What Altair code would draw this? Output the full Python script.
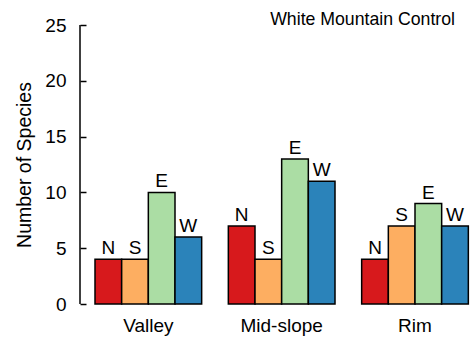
import altair as alt
import pandas as pd

# Species counts by slope position and aspect
sites = ["Valley", "Mid-slope", "Rim"]
aspects = ["N", "S", "E", "W"]
valley = [4, 4, 10, 6]
mid_slope = [7, 4, 13, 11]
rim = [4, 7, 9, 7]
colors = ["#d7191c", "#fdae61", "#abdda4", "#2b83ba"]
panel_title = "White Mountain Control"

rows = []
for site, counts in zip(sites, [valley, mid_slope, rim]):
    for aspect, n in zip(aspects, counts):
        rows.append({"site": site, "aspect": aspect, "count": n})
df = pd.DataFrame(rows)

FONT = "Liberation Sans"
FS = 19

x_enc = alt.X(
    "site:N",
    sort=sites,
    title=None,
    scale=alt.Scale(paddingInner=0.2, paddingOuter=0.0625, align=0.9),
    axis=alt.Axis(domain=False, ticks=False, labelAngle=0, labelFontSize=FS,
                  labelFont=FONT, labelColor="black", labelPadding=12),
)
xoff_enc = alt.XOffset("aspect:N", sort=aspects,
                       scale=alt.Scale(paddingInner=0, paddingOuter=0))
y_scale = alt.Scale(domain=[0, 25], nice=False)

bars = alt.Chart(df).mark_bar(stroke="black", strokeWidth=1.5).encode(
    x=x_enc,
    xOffset=xoff_enc,
    y=alt.Y(
        "count:Q",
        scale=y_scale,
        title="Number of Species",
        axis=alt.Axis(
            values=[0, 5, 10, 15, 20, 25],
            domain=False, grid=False,
            tickSize=6, tickColor="black", tickWidth=1.5,
            offset=-6, labelPadding=14,
            labelFontSize=FS, labelFont=FONT, labelColor="black",
            titleFontSize=19.5, titleFont=FONT, titleColor="black",
            titleFontWeight="normal", titlePadding=10,
        ),
    ),
    color=alt.Color("aspect:N", sort=aspects,
                    scale=alt.Scale(domain=aspects, range=colors), legend=None),
)

labels = alt.Chart(df).mark_text(
    baseline="alphabetic", dy=-5, fontSize=FS, font=FONT, color="black"
).encode(
    x=alt.X("site:N", sort=sites),
    xOffset=alt.XOffset("aspect:N", sort=aspects),
    y=alt.Y("count:Q", scale=y_scale),
    text="aspect:N",
)

# vertical axis line spanning 0..25
axis_line = alt.Chart(pd.DataFrame({"lo": [0], "hi": [25]})).mark_rule(
    color="black", strokeWidth=1.5
).encode(x=alt.value(0), y=alt.Y("lo:Q", scale=y_scale), y2="hi:Q")

# panel heading in the top-right corner of the plot
heading = alt.Chart(pd.DataFrame({"t": [panel_title]})).mark_text(
    align="right", baseline="alphabetic", fontSize=17.7, font=FONT, color="black"
).encode(x=alt.value(375), y=alt.value(0), text="t:N")

chart = alt.layer(bars, labels, axis_line, heading).properties(
    width=390,
    height=279,
    padding={"left": 80, "top": 25, "right": 1, "bottom": 40},
    autosize=alt.AutoSizeParams(type="none"),
).configure_view(stroke=None)

chart.save("out.html", embed_options={"renderer": "svg", "actions": False})
